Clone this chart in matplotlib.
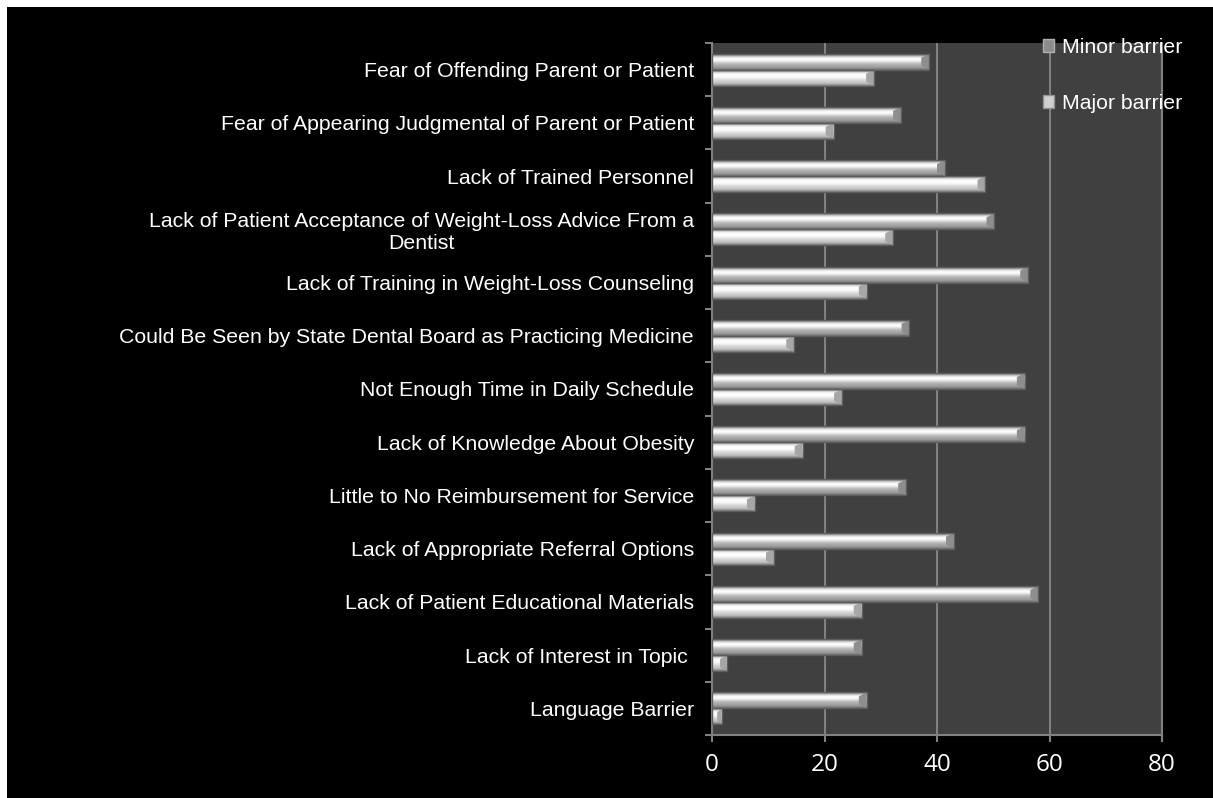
import numpy as np
import matplotlib
matplotlib.use("Agg")
import matplotlib.pyplot as plt
from matplotlib.patches import Rectangle, Polygon, Patch

categories = [
    "Fear of Offending Parent or Patient",
    "Fear of Appearing Judgmental of Parent or Patient",
    "Lack of Trained Personnel",
    "Lack of Patient Acceptance of Weight-Loss Advice From a\nDentist",
    "Lack of Training in Weight-Loss Counseling",
    "Could Be Seen by State Dental Board as Practicing Medicine",
    "Not Enough Time in Daily Schedule",
    "Lack of Knowledge About Obesity",
    "Little to No Reimbursement for Service",
    "Lack of Appropriate Referral Options",
    "Lack of Patient Educational Materials",
    "Lack of Interest in Topic ",
    "Language Barrier",
]
minor_barrier = [38.6, 33.6, 41.4, 50.2, 56.2, 35.1, 55.6, 55.6, 34.5, 43.0, 58.0, 26.6, 27.5]
major_barrier = [28.8, 21.6, 48.6, 32.2, 27.5, 14.6, 23.1, 16.1, 7.6, 11.0, 26.6, 2.6, 1.7]
x_ticks = [0, 20, 40, 60, 80]

LABEL_FONT = "Liberation Sans"
GRID = "#808080"

# vertical shading profiles (top -> bottom) for the bevelled bars
minor_profile = [0.50, 0.72, 0.94, 1.0, 0.97, 0.86, 0.74, 0.68, 0.64, 0.60, 0.45]
major_profile = [0.55, 0.80, 0.97, 1.0, 0.99, 0.95, 0.88, 0.82, 0.78, 0.72, 0.50]


def shaded_bar(ax, y_center, value, height, profile, cap_color):
    y0 = y_center - height / 2
    y1 = y_center + height / 2
    base = Rectangle((0, y0), value, height, facecolor="none", edgecolor="none")
    ax.add_patch(base)
    grad = np.array(profile)[:, None, None] * np.ones((1, 1, 3))
    im = ax.imshow(grad, extent=(0, value, y0, y1), origin="upper",
                   aspect="auto", interpolation="bicubic", zorder=3)
    im.set_clip_path(base)
    # bevelled end cap
    b = min(1.4, value * 0.45)
    cap = Polygon([(value - b, y1 - height * 0.25), (value, y1), (value, y0),
                   (value - b, y0 + height * 0.25)],
                  closed=True, facecolor=cap_color, edgecolor="none", zorder=4)
    ax.add_patch(cap)
    ax.add_patch(Rectangle((0, y0), value, height, facecolor="none",
                           edgecolor="#5e5e5e", linewidth=1.0, zorder=5))


fig = plt.figure(figsize=(12.13, 7.98), dpi=100)
fig.patch.set_facecolor("white")
# black chart area, leaving a thin white margin on the top and left
fig.add_artist(Rectangle((7 / 1213, 0), 1, 1 - 7 / 798, transform=fig.transFigure,
                         facecolor="black", edgecolor="none", zorder=-10))

ax = fig.add_axes([712 / 1213, 63 / 798, 450 / 1213, 692 / 798])
ax.set_facecolor("#404040")

n = len(categories)
ypos = np.arange(n)[::-1]
bar_h = 0.3
for y, mn, mj in zip(ypos, minor_barrier, major_barrier):
    shaded_bar(ax, y + bar_h / 2, mn, bar_h, minor_profile, "#8e8e8e")
    shaded_bar(ax, y - bar_h / 2, mj, bar_h, major_profile, "#a6a6a6")

ax.set_xlim(0, 80)
ax.set_ylim(-0.5, n - 0.5)

ax.set_xticks(x_ticks)
ax.set_xticklabels([str(t) for t in x_ticks], fontsize=17.5, family="Open Sans", color="white")
ax.tick_params(axis="x", length=5, width=1.5, color=GRID, pad=8)

ax.set_yticks(ypos)
ax.set_yticklabels(categories, fontsize=15.3, family=LABEL_FONT, color="white",
                   multialignment="center")
ax.set_yticks(np.arange(-0.5, n, 1.0), minor=True)
ax.tick_params(axis="y", which="major", length=0, pad=13)
ax.tick_params(axis="y", which="minor", length=5, width=1.5, color=GRID)

ax.grid(axis="x", color=GRID, linewidth=1.5, zorder=1)
ax.set_axisbelow(True)
for side in ["left", "bottom", "right"]:
    ax.spines[side].set_color(GRID)
    ax.spines[side].set_linewidth(1.5)
ax.spines["top"].set_visible(False)

handles = [Patch(facecolor="#8c8c8c", edgecolor="#b0b0b0", label="Minor barrier"),
           Patch(facecolor="#d0d0d0", edgecolor="#909090", label="Major barrier")]
leg = fig.legend(handles=handles, loc="upper left",
                 bbox_to_anchor=(1032 / 1213, 1 - 27 / 798),
                 frameon=False, handlelength=0.55, handleheight=0.55,
                 handletextpad=0.35, labelspacing=1.75, borderpad=0,
                 prop={"family": LABEL_FONT, "size": 15.3})
for t in leg.get_texts():
    t.set_color("white")

fig.savefig("out.png", dpi=100)
